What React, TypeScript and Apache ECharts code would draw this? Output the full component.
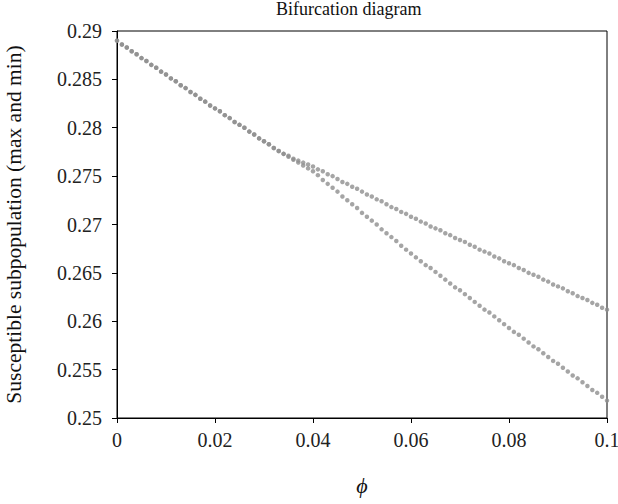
import React, { useEffect, useRef } from "react";
import * as echarts from "echarts";

const TITLE = "Bifurcation diagram";
const X_NAME = "ϕ";
const Y_NAME = "Susceptible subpopulation (max and min)";
const PHI_START = 0;
const PHI_STEP = 0.001;

// Maximum of the susceptible subpopulation, one value per phi step (0 .. 0.1)
const maxValues = [
  0.2890, 0.2886, 0.2883, 0.2879, 0.2876, 0.2872, 0.2869, 0.2865, 0.2862, 0.2858,
  0.2855, 0.2851, 0.2848, 0.2844, 0.2841, 0.2837, 0.2834, 0.2830, 0.2827, 0.2823,
  0.2820, 0.2817, 0.2813, 0.2810, 0.2806, 0.2803, 0.2800, 0.2796, 0.2793, 0.2789,
  0.2786, 0.2783, 0.2779, 0.2776, 0.2773, 0.2771, 0.2768, 0.2766, 0.2764, 0.2762,
  0.2760, 0.2757, 0.2755, 0.2752, 0.2750, 0.2747, 0.2744, 0.2742, 0.2739, 0.2737,
  0.2734, 0.2731, 0.2729, 0.2726, 0.2724, 0.2721, 0.2718, 0.2716, 0.2713, 0.2711,
  0.2708, 0.2706, 0.2703, 0.2701, 0.2698, 0.2696, 0.2694, 0.2691, 0.2689, 0.2686,
  0.2684, 0.2682, 0.2679, 0.2677, 0.2674, 0.2672, 0.2670, 0.2667, 0.2665, 0.2662,
  0.2660, 0.2658, 0.2655, 0.2653, 0.2650, 0.2648, 0.2646, 0.2643, 0.2641, 0.2638,
  0.2636, 0.2634, 0.2631, 0.2629, 0.2626, 0.2624, 0.2622, 0.2619, 0.2617, 0.2614,
  0.2612,
];

// Minimum of the susceptible subpopulation
const minValues = [
  0.2890, 0.2886, 0.2883, 0.2879, 0.2876, 0.2872, 0.2869, 0.2865, 0.2862, 0.2858,
  0.2855, 0.2851, 0.2848, 0.2844, 0.2841, 0.2837, 0.2834, 0.2830, 0.2827, 0.2823,
  0.2820, 0.2817, 0.2813, 0.2810, 0.2806, 0.2803, 0.2800, 0.2796, 0.2793, 0.2789,
  0.2786, 0.2783, 0.2779, 0.2776, 0.2773, 0.2770, 0.2767, 0.2764, 0.2761, 0.2758,
  0.2755, 0.2751, 0.2746, 0.2742, 0.2738, 0.2734, 0.2729, 0.2725, 0.2721, 0.2717,
  0.2712, 0.2708, 0.2704, 0.2700, 0.2695, 0.2691, 0.2687, 0.2683, 0.2678, 0.2674,
  0.2670, 0.2666, 0.2662, 0.2658, 0.2655, 0.2651, 0.2647, 0.2643, 0.2639, 0.2635,
  0.2632, 0.2628, 0.2624, 0.2620, 0.2616, 0.2612, 0.2609, 0.2605, 0.2601, 0.2597,
  0.2593, 0.2589, 0.2586, 0.2582, 0.2578, 0.2574, 0.2571, 0.2567, 0.2563, 0.2559,
  0.2556, 0.2552, 0.2548, 0.2544, 0.2541, 0.2537, 0.2533, 0.2529, 0.2526, 0.2522,
  0.2518,
];

const xTicks = { min: 0, max: 0.1, interval: 0.02 };
const yTicks = { min: 0.25, max: 0.29, interval: 0.005 };

const FONT = "'Liberation Serif', 'DejaVu Serif', serif";
const DOT = "#8f8f8f";

export default function App() {
  const ref = useRef<HTMLDivElement>(null);
  useEffect(() => {
    if (!ref.current) return;
    const chart = echarts.init(ref.current, undefined, { renderer: "svg" });
    const pairs = (vals: number[]) =>
      vals.map((v, i) => [+(PHI_START + i * PHI_STEP).toFixed(4), v]);
    const fmtX = (v: number) => String(+v.toFixed(3));
    const fmtY = (v: number) => String(+v.toFixed(4));
    chart.setOption({
      animation: false,
      backgroundColor: "#fff",
      textStyle: { fontFamily: FONT },
      title: {
        text: TITLE,
        left: 276,
        top: 0,
        padding: 0,
        textStyle: { fontFamily: FONT, fontSize: 18, fontWeight: "normal", color: "#111" },
      },
      grid: {
        left: 117,
        right: 11,
        top: 31,
        bottom: 86,
        containLabel: false,
        outerBoundsMode: "none",
        show: true,
        borderColor: "#000",
        borderWidth: 1,
        backgroundColor: "transparent",
      },
      xAxis: {
        type: "value",
        min: xTicks.min,
        max: xTicks.max,
        interval: xTicks.interval,
        name: X_NAME,
        nameLocation: "middle",
        nameGap: 56,
        nameTextStyle: { fontFamily: FONT, fontSize: 22, fontStyle: "italic", color: "#111" },
        axisLine: { show: true, lineStyle: { color: "#000", width: 1 } },
        axisTick: { show: true, length: 5, inside: false, lineStyle: { color: "#000" } },
        axisLabel: { fontFamily: FONT, fontSize: 20, color: "#222", margin: 12, formatter: fmtX },
        splitLine: { show: false },
      },
      yAxis: {
        type: "value",
        min: yTicks.min,
        max: yTicks.max,
        interval: yTicks.interval,
        name: Y_NAME,
        nameLocation: "middle",
        nameGap: 92,
        nameTextStyle: { fontFamily: FONT, fontSize: 21.5, color: "#111" },
        axisLine: { show: true, lineStyle: { color: "#000", width: 1 } },
        axisTick: { show: true, length: 5, inside: false, lineStyle: { color: "#000" } },
        axisLabel: { fontFamily: FONT, fontSize: 20, color: "#222", margin: 15, formatter: fmtY },
        splitLine: { show: false },
      },
      series: [
        {
          name: "max",
          type: "scatter",
          data: pairs(maxValues),
          symbol: "circle",
          symbolSize: 4.5,
          itemStyle: { color: DOT },
          clip: false,
        },
        {
          name: "min",
          type: "scatter",
          data: pairs(minValues),
          symbol: "circle",
          symbolSize: 4.5,
          itemStyle: { color: DOT },
          clip: false,
        },
      ],
    });
    return () => chart.dispose();
  }, []);
  return (
    <div
      ref={ref}
      style={{ position: "absolute", left: 0, top: 0, width: 618, height: 504 }}
    />
  );
}
